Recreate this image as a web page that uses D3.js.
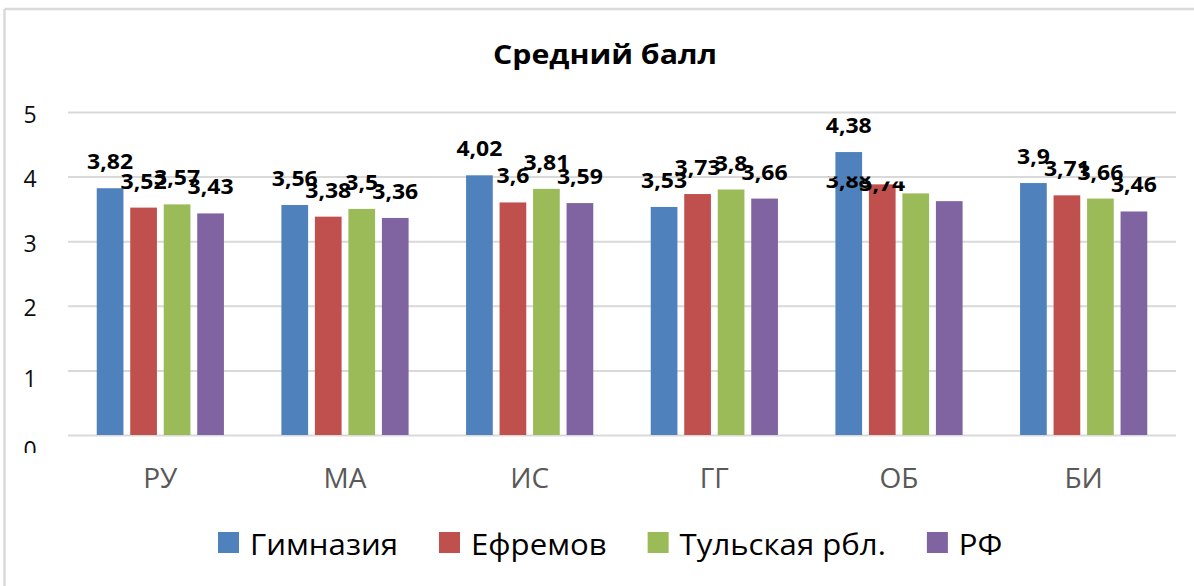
<!DOCTYPE html>
<html><head><meta charset="utf-8">
<script src="https://cdn.jsdelivr.net/npm/d3@7"></script>
<style>
html,body{margin:0;padding:0;background:#fff;}
svg{display:block;}
</style></head>
<body>
<svg id="chart" width="1194" height="586"></svg>
<script>
const categories = ["РУ","МА","ИС","ГГ","ОБ","БИ"];
const seriesNames = ["Гимназия","Ефремов","Тульская рбл.","РФ"];
const gymnasium = [3.82,3.56,4.02,3.53,4.38,3.9];
const efremov   = [3.52,3.38,3.6,3.73,3.88,3.71];
const tula      = [3.57,3.5,3.81,3.8,3.74,3.66];
const rf        = [3.43,3.36,3.59,3.66,3.62,3.46];
const yTicks = [0,1,2,3,4,5];
const titleText = "Средний балл";

const seriesValues = [gymnasium, efremov, tula, rf];
const colors = ["#4F81BD","#C0504D","#9BBB59","#8064A2"];
const FONT = "'Open Sans', 'Noto Sans', sans-serif";

const svg = d3.select("#chart");
const W = 1194, H = 586;
svg.append("rect").attr("width",W).attr("height",H).attr("fill","#fff");

// outer frame (partially visible)
svg.append("line").attr("x1",4.5).attr("x2",W).attr("y1",9).attr("y2",9)
  .attr("stroke","#D9D9D9").attr("stroke-width",2.5);
svg.append("line").attr("x1",4.5).attr("x2",4.5).attr("y1",9).attr("y2",H)
  .attr("stroke","#D9D9D9").attr("stroke-width",2.5);

const x0 = d3.scaleBand().domain(categories).range([68,1176]).padding(0);
const groupW = 127.2;
const x1 = d3.scaleBand().domain(d3.range(seriesNames.length)).range([0,groupW])
  .paddingInner(0.203).paddingOuter(0);
const y = d3.scaleLinear().domain([0,5]).range([435,112]);
// tick-label baseline positions (slightly drifting in the reference rendering)
const yLbl = d3.scaleLinear().domain([0,1,2,5]).range([458,387,316,123]);

const defs = svg.append("defs");
defs.append("clipPath").attr("id","tickClip").append("rect")
  .attr("x",0).attr("y",0).attr("width",W).attr("height",453);
defs.append("clipPath").attr("id","obClip1").append("rect")
  .attr("x",0).attr("y",176.5).attr("width",W).attr("height",H);
defs.append("clipPath").attr("id","obClip2").append("rect")
  .attr("x",0).attr("y",181.5).attr("width",W).attr("height",H);

// gridlines
const yAxis = d3.axisLeft(y).tickValues(yTicks).tickSize(-(1176-68)).tickFormat(d=>d);
const gy = svg.append("g").attr("transform","translate(68,0)").call(yAxis);
gy.select(".domain").remove();
gy.selectAll(".tick line").attr("stroke","#D9D9D9").attr("stroke-width",2);
gy.selectAll(".tick text").remove();

// y tick labels (the "0" is clipped at the bottom like the reference)
svg.append("g").attr("clip-path","url(#tickClip)")
  .selectAll("text").data(yTicks).join("text")
  .attr("x",30).attr("y",d=>yLbl(d))
  .attr("text-anchor","middle")
  .attr("font-family",FONT).attr("font-size",23).attr("fill","#0d0d0d")
  .text(d=>d);

// bars
const flat = [];
categories.forEach((c,ci)=>seriesValues.forEach((arr,si)=>flat.push({c,ci,si,v:arr[ci]})));
const off = (x0.bandwidth()-groupW)/2;
const barX = d => x0(d.c)+off+x1(d.si);
svg.append("g").selectAll("rect").data(flat).join("rect")
  .attr("x",barX).attr("width",x1.bandwidth())
  .attr("y",d=>y(d.v)).attr("height",d=>y(0)-y(d.v))
  .attr("fill",d=>colors[d.si]);

// x axis labels
const xAxis = d3.axisBottom(x0).tickSize(0).tickPadding(0);
const gx = svg.append("g").attr("transform","translate(0,435)").call(xAxis);
gx.select(".domain").remove();
gx.selectAll(".tick text").attr("y",53).attr("dy",0)
  .attr("font-family",FONT).attr("font-size",28).attr("fill","#595959");

// data labels
const fmt = v => String(v).replace(".", ",");
const measure = svg.append("text").attr("font-family",FONT).attr("font-weight","bold")
  .attr("font-size",21).text("4,38");
const labelK = 46 / measure.node().getComputedTextLength();
measure.remove();

const lblG = svg.append("g");
flat.forEach(d=>{
  let cx = barX(d) + x1.bandwidth()/2;
  let by = y(d.v) - 19;
  let clip = null;
  if (d.c === "ОБ" && d.si > 0) {
    if (d.si === 3) return; // hidden in the reference
    cx -= x1.step();
    by = d.si === 1 ? 188 : 191;
    clip = d.si === 1 ? "url(#obClip1)" : "url(#obClip2)";
  }
  const t = lblG.append("text")
    .attr("x",cx).attr("y",by).attr("text-anchor","middle")
    .attr("font-family",FONT).attr("font-weight","bold").attr("font-size",21)
    .attr("fill","#000").text(fmt(d.v));
  if (clip) t.attr("clip-path",clip);
  const L = t.node().getComputedTextLength();
  t.attr("textLength",L*labelK).attr("lengthAdjust","spacingAndGlyphs");
});

// title
const title = svg.append("text").attr("x",605).attr("y",64).attr("text-anchor","middle")
  .attr("font-family",FONT).attr("font-weight","bold").attr("font-size",26)
  .attr("fill","#000").text(titleText);
title.attr("textLength",224).attr("lengthAdjust","spacingAndGlyphs");

// legend
const legG = svg.append("g");
const legFont = 29.5;
const m2 = svg.append("text").attr("font-family",FONT).attr("font-size",legFont).text(seriesNames[0]);
const legK = 148 / m2.node().getComputedTextLength();
m2.remove();
let lx = 218;
seriesNames.forEach((name,i)=>{
  legG.append("rect").attr("x",lx).attr("y",532).attr("width",21).attr("height",21)
    .attr("fill",colors[i]);
  const t = legG.append("text").attr("x",lx+32).attr("y",554.5)
    .attr("font-family",FONT).attr("font-size",legFont).attr("fill","#000").text(name);
  const w = t.node().getComputedTextLength()*legK;
  t.attr("textLength",w).attr("lengthAdjust","spacingAndGlyphs");
  lx += 32 + w + 41;
});
</script>
</body></html>
